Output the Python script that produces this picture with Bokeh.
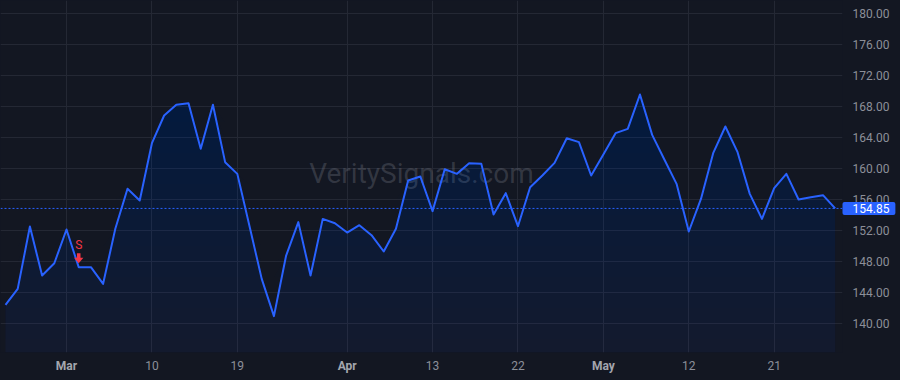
import numpy as np
import pandas as pd
from bokeh.plotting import figure
from bokeh.models import Range1d, FixedTicker, NumeralTickFormatter, Span, Label, LinearAxis
from bokeh.embed import file_html
from bokeh.resources import INLINE

# ---------------- data ----------------
start_date = "2021-02-22"
end_date = "2021-05-28"
holidays = ["2021-04-02"]
dates = [d for d in pd.bdate_range(start_date, end_date).strftime("%Y-%m-%d") if d not in holidays]

close = [
    142.41, 144.47, 152.52, 146.19, 147.78, 152.13, 147.27, 147.27, 145.12, 152.22,
    157.38, 155.87, 163.27, 166.84, 168.22, 168.43, 162.54, 168.22, 160.82, 159.31,
    152.55, 145.76, 140.95, 148.77, 153.08, 146.19, 153.50, 152.94, 151.74, 152.69,
    151.40, 149.29, 152.22, 158.45, 158.97, 154.50, 159.91, 159.31, 160.69, 160.60,
    154.06, 156.82, 152.56, 157.59, 159.10, 160.73, 163.91, 163.40, 159.10, 161.80,
    164.56, 165.12, 169.55, 164.34, 161.16, 158.02, 151.87, 156.08, 161.98, 165.42,
    162.11, 156.73, 153.50, 157.46, 159.31, 156.00, 156.30, 156.56, 154.85,
]

tick_dates = ["2021-03-01", "2021-03-10", "2021-03-19", "2021-04-01", "2021-04-13",
              "2021-04-22", "2021-05-03", "2021-05-12", "2021-05-21"]
tick_labels = ["Mar", "10", "19", "Apr", "13", "22", "May", "12", "21"]
price_ticks = [140, 144, 148, 152, 156, 160, 164, 168, 172, 176, 180]

signal_date = "2021-03-02"
signal_text = "S"
last_price = close[-1]
watermark = "VeritySignals.com"

# ---------------- style ----------------
BG = "#131722"
GRID = "#242834"
BLUE = "#2962ff"
RED = "#f23645"
AXIS_TXT = "#8c8f99"
MONTH_TXT = "#a3a6ae"
FONT = "Roboto"

idx = np.arange(len(dates))
vals = np.array(close)
pos = {d: i for i, d in enumerate(dates)}
tick_pos = [pos[d] for d in tick_dates]
day_ticks = [t for t, l in zip(tick_pos, tick_labels) if not l.isalpha()]
month_ticks = [t for t, l in zip(tick_pos, tick_labels) if l.isalpha()]

x0, x1 = -0.41, 68.6
y0, y1 = 136.26, 181.68
W, H = 900, 380
FW, FH = 842, 352
px_x = (x1 - x0) / FW
px_y = (y1 - y0) / FH

p = figure(width=W, height=H, x_range=Range1d(x0, x1), y_range=Range1d(y0, y1),
           output_backend="svg", toolbar_location=None, y_axis_location="right",
           min_border_left=0, min_border_top=0, min_border_right=W - FW,
           min_border_bottom=H - FH, background_fill_color=BG, border_fill_color=None,
           outline_line_color=None)
p.styles = {"background-color": BG}

# grids
p.xgrid.ticker = FixedTicker(ticks=tick_pos)
p.ygrid.ticker = FixedTicker(ticks=price_ticks)
p.grid.grid_line_color = GRID

# watermark
p.add_layout(Label(x=FW / 2, y=FH - 173, x_units="screen", y_units="screen",
                   text=watermark, text_font=FONT, text_font_size="28px",
                   text_color="#787b86", text_alpha=0.33, text_align="center",
                   text_baseline="middle", level="underlay"))

# gradient-like area fill
p.varea(x=idx, y1=y0, y2=vals, fill_color=BLUE, fill_alpha=0.055)
for L in np.arange(138, 181, 2.0):
    p.varea(x=idx, y1=L, y2=np.maximum(vals, L), fill_color=BLUE, fill_alpha=0.009)

p.line(idx, vals, line_color=BLUE, line_width=2, line_join="round")

# last price line
p.add_layout(Span(location=last_price, dimension="width", line_color=BLUE,
                  line_dash="2 2", line_width=1))

# sell signal
si = pos[signal_date]
sv = close[si]
ax = np.array([0, -4.7, -1.8, -1.8, 1.8, 1.8, 4.7]) * px_x + si
ay = np.array([4, 9.4, 9.4, 14, 14, 9.4, 9.4]) * px_y + sv
p.patch(ax, ay, fill_color=RED, line_color=None)
p.add_layout(Label(x=si, y=sv, y_offset=22, text=signal_text, text_color=RED,
                   text_font=FONT, text_font_size="12px", text_align="center",
                   text_baseline="middle"))


def style_axis(a, color, bold=False):
    a.major_tick_line_color = None
    a.minor_tick_line_color = None
    a.major_tick_out = 0
    a.major_tick_in = 0
    a.minor_tick_out = 0
    a.axis_line_color = None
    a.major_label_text_color = color
    a.major_label_text_font = FONT
    a.major_label_text_font_size = "12px"
    if bold:
        a.major_label_text_font_style = "bold"


# x axis: day numbers
xa = p.xaxis[0]
xa.ticker = FixedTicker(ticks=day_ticks)
xa.major_label_overrides = {t: l for t, l in zip(tick_pos, tick_labels) if not l.isalpha()}
style_axis(xa, AXIS_TXT)
xa.major_label_standoff = 8

# second x axis: month names (bold), pulled up onto the same line
ma = LinearAxis(ticker=FixedTicker(ticks=month_ticks),
                major_label_overrides={t: l for t, l in zip(tick_pos, tick_labels) if l.isalpha()})
style_axis(ma, MONTH_TXT, bold=True)
p.add_layout(ma, "below")
ma.major_label_standoff = -14

# price tag on the right scale, placed before the price axis
tag = Label(x=x1, y=last_price, x_units="data", y_units="data",
            text=f"{last_price:.2f}", text_color="white", text_font=FONT,
            text_font_size="12px", text_align="left", text_baseline="middle",
            background_fill_color=BLUE, padding=(10, 6, 2, 2), border_radius=2)

ya = p.yaxis[0]
ya.ticker = FixedTicker(ticks=price_ticks)
ya.formatter = NumeralTickFormatter(format="0.00")
style_axis(ya, AXIS_TXT)
p.right = [tag, ya]
ya.major_label_standoff = -43

open("out.html", "w").write(file_html(p, INLINE))
